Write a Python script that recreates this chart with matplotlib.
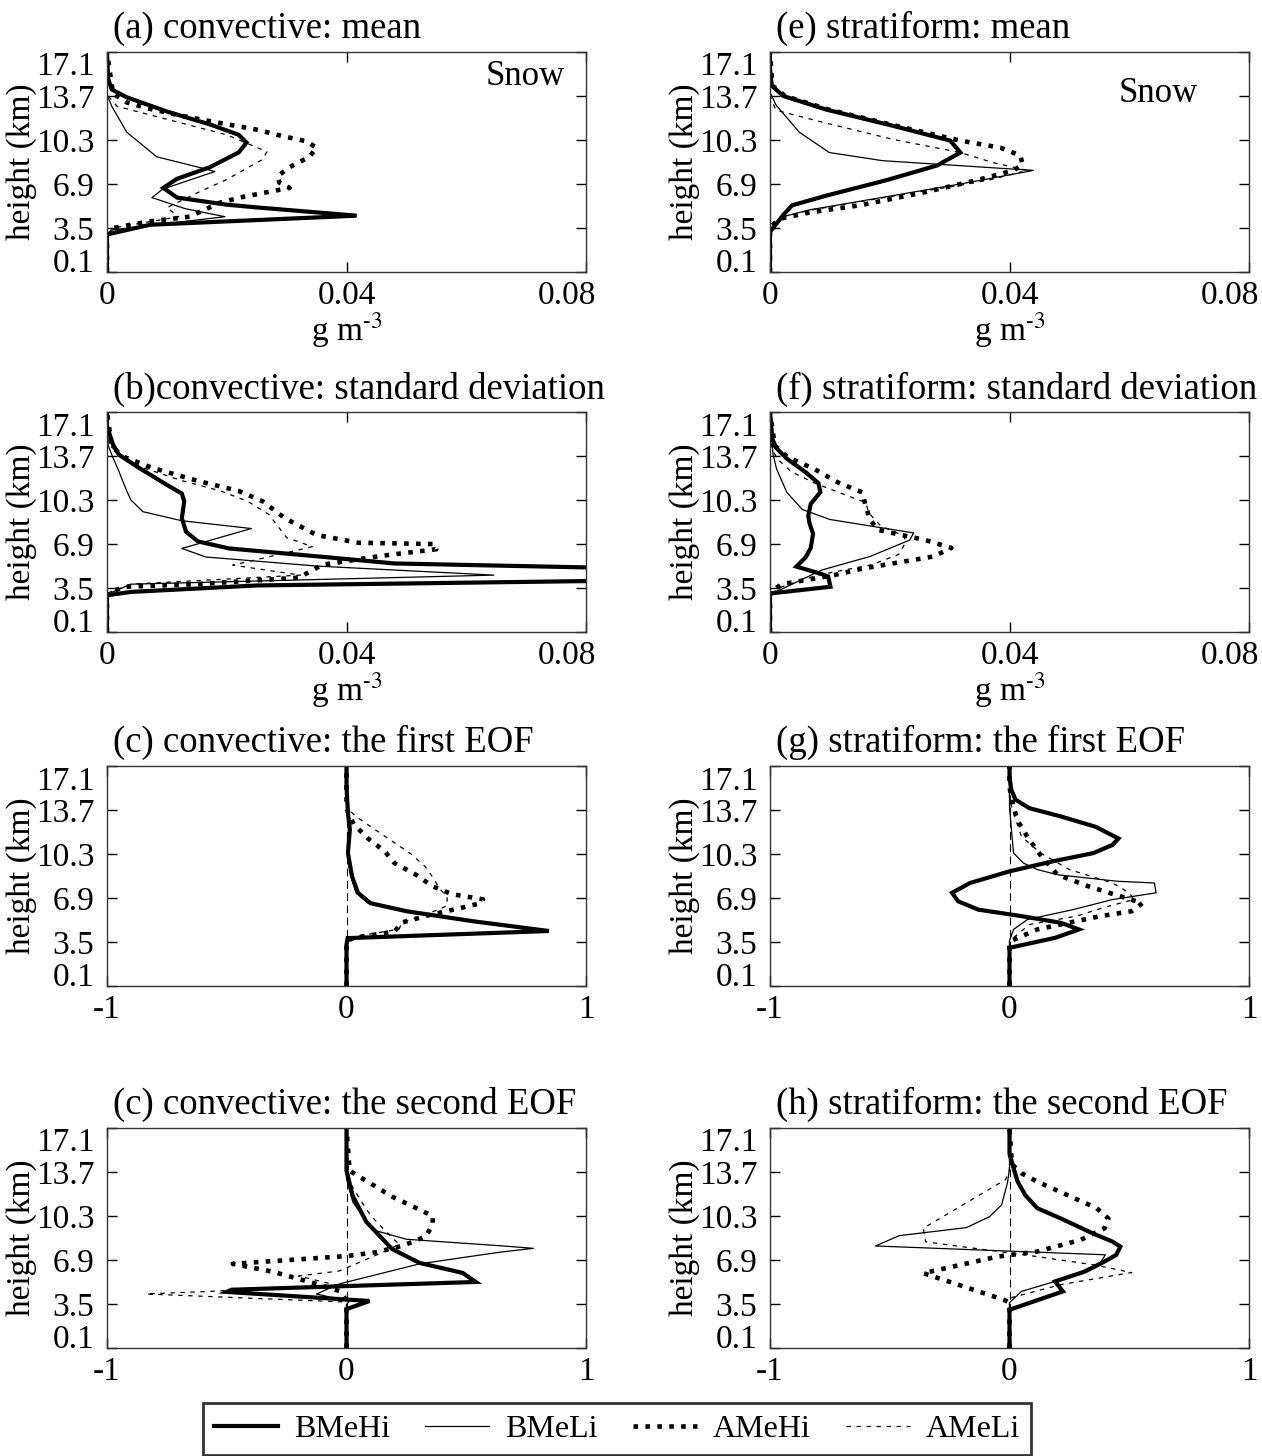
"""
Snow profiles: mean, std and EOFs for convective / stratiform cases.
"""
import matplotlib
matplotlib.use("Agg")
import matplotlib.pyplot as plt
from matplotlib.lines import Line2D
from matplotlib.transforms import ScaledTranslation

plt.rcParams["font.family"] = ["Liberation Serif", "DejaVu Serif"]
plt.rcParams["mathtext.fontset"] = "stix"

SERIES = ["BMeHi", "BMeLi", "AMeHi", "AMeLi"]
Y_TICKS = [0.1, 3.5, 6.9, 10.3, 13.7, 17.1]
Y_LABELS = ["0.1", "3.5", "6.9", "10.3", "13.7", "17.1"]
CONC_TICKS = [0, 0.04, 0.08]
CONC_LABELS = ["0", "0.04", "0.08"]
EOF_TICKS = [-1, 0, 1]
EOF_LABELS = ["-1", "0", "1"]

TITLES = ["(a) convective: mean", "(b)convective: standard deviation",
          "(c) convective: the first EOF", "(c) convective: the second EOF",
          "(e) stratiform: mean", "(f) stratiform: standard deviation",
          "(g) stratiform: the first EOF", "(h) stratiform: the second EOF"]

# ---- (a) convective mean ------------------------------------------------
a_bmehi_z = [0.1, 3.0, 3.75, 4.45, 5.07, 5.3, 5.85, 6.6, 7.3, 8.2, 9.34, 10.1, 10.7, 11.5, 12.5, 13.6, 14.2, 15.0, 17.1]
a_bmehi_x = [0, 0, 0.0072, 0.0417, 0.0255, 0.02, 0.0117, 0.0094, 0.0117, 0.0172, 0.022, 0.0233, 0.022, 0.0172, 0.010, 0.0033, 0.0008, 0.0002, 0]
a_bmeli_z = [0.1, 3.0, 3.36, 4.37, 5.0, 5.85, 6.5, 7.86, 8.17, 9.0, 10.9, 12.9, 13.8, 17.1]
a_bmeli_x = [0, 0, 0.001, 0.0197, 0.013, 0.0075, 0.0093, 0.018, 0.0155, 0.0083, 0.0033, 0.0008, 0, 0]
a_amehi_z = [0.1, 3.0, 3.5, 4.0, 4.37, 5.45, 5.9, 6.6, 7.0, 7.5, 8.2, 9.0, 9.7, 10.2, 10.6, 11.1, 11.75, 12.1, 12.7, 13.2, 13.9, 17.1]
a_amehi_x = [0, 0, 0.001, 0.007, 0.0138, 0.0188, 0.0227, 0.0305, 0.0288, 0.0285, 0.0305, 0.0338, 0.035, 0.0333, 0.0293, 0.025, 0.0172, 0.0133, 0.0072, 0.0033, 0.001, 0]
a_ameli_z = [0.1, 3.0, 3.5, 4.37, 5.07, 6.2, 7.25, 8.8, 9.4, 10.7, 11.9, 12.9, 13.8, 17.1]
a_ameli_x = [0, 0, 0.001, 0.012, 0.010, 0.015, 0.020, 0.026, 0.0267, 0.020, 0.010, 0.0017, 0, 0]

# ---- (b) convective standard deviation ----------------------------------
b_bmehi_z = [0.1, 2.94, 3.2, 3.7, 4.1, 4.5, 5.0, 5.4, 5.9, 6.56, 7.1, 7.85, 8.9, 10.2, 10.8, 11.5, 12.8, 13.8, 14.6, 16.0, 17.1]
b_bmehi_x = [0, 0, 0.004, 0.025, 0.09, 0.11, 0.09, 0.048, 0.0363, 0.0204, 0.0152, 0.0132, 0.0125, 0.0129, 0.0125, 0.0099, 0.0053, 0.002, 0.001, 0, 0]
b_bmeli_z = [0.1, 3.0, 3.8, 4.5, 5.2, 5.9, 6.56, 8.1, 8.7, 9.4, 10.3, 11.0, 12.5, 13.8, 14.5, 17.1]
b_bmeli_x = [0, 0, 0.004, 0.0646, 0.035, 0.0165, 0.0125, 0.0241, 0.0125, 0.006, 0.004, 0.0033, 0.002, 0.0008, 0.0002, 0]
b_amehi_z = [0.1, 3.1, 3.6, 3.8, 4.3, 4.8, 5.3, 6.0, 6.5, 6.9, 7.0, 7.6, 8.9, 10.2, 11.0, 11.8, 12.8, 13.6, 14.4, 17.1]
b_amehi_x = [0, 0, 0.003, 0.015, 0.032, 0.034, 0.036, 0.046, 0.055, 0.0547, 0.042, 0.035, 0.0297, 0.026, 0.022, 0.015, 0.0075, 0.003, 0.0008, 0]
b_ameli_z = [0.1, 3.1, 3.8, 4.5, 5.27, 6.2, 6.7, 7.4, 8.3, 9.2, 10.2, 11.0, 11.8, 12.8, 13.5, 14.5, 17.1]
b_ameli_x = [0, 0, 0.004, 0.0323, 0.021, 0.0297, 0.0343, 0.030, 0.0285, 0.027, 0.0235, 0.019, 0.0125, 0.006, 0.003, 0.0005, 0]

# ---- (c) convective first EOF -------------------------------------------
c_bmehi_z = [0.1, 3.3, 3.8, 4.35, 5.1, 5.88, 6.5, 7.3, 8.57, 10.37, 12.2, 13.45, 15.5, 17.1]
c_bmehi_x = [0, 0, 0.005, 0.845, 0.53, 0.25, 0.10, 0.048, 0.023, 0.006, 0.014, 0.006, 0, 0]
c_bmeli_z = [0.1, 3.3, 3.8, 4.35, 5.1, 5.88, 6.5, 7.3, 8.57, 10.37, 12.2, 13.45, 15.5, 17.1]
c_bmeli_x = [0, 0, 0.005, 0.82, 0.52, 0.24, 0.09, 0.04, 0.018, 0.004, 0.01, 0.004, 0, 0]
c_amehi_z = [0.1, 3.6, 3.85, 4.3, 5.0, 5.6, 6.1, 6.5, 6.8, 7.2, 7.8, 8.7, 9.6, 10.5, 11.5, 12.6, 13.4, 13.8, 17.1]
c_amehi_x = [0, 0, 0.04, 0.20, 0.23, 0.35, 0.47, 0.56, 0.57, 0.44, 0.36, 0.29, 0.20, 0.16, 0.09, 0.03, 0.01, 0, 0]
c_ameli_z = [0.1, 3.7, 3.9, 4.5, 5.0, 5.6, 6.3, 7.0, 7.6, 8.5, 9.3, 10.3, 11.3, 12.3, 13.2, 13.8, 17.1]
c_ameli_x = [0, 0, 0.03, 0.22, 0.23, 0.33, 0.42, 0.42, 0.39, 0.36, 0.33, 0.27, 0.19, 0.11, 0.04, 0.005, 0]

# ---- (d) convective second EOF ------------------------------------------
d_bmehi_z = [0.1, 3.1, 3.73, 4.43, 4.6, 5.2, 5.9, 6.67, 7.75, 9.84, 11.85, 13.8, 17.1]
d_bmehi_x = [0, 0, 0.096, -0.50, -0.48, 0.54, 0.485, 0.305, 0.19, 0.083, 0.026, 0, 0]
d_bmeli_z = [0.1, 3.4, 3.7, 4.27, 5.05, 6.6, 7.5, 7.8, 8.0, 8.5, 9.15, 9.84, 11.4, 13.2, 17.1]
d_bmeli_x = [0, 0, 0.01, -0.125, -0.03, 0.305, 0.64, 0.78, 0.64, 0.25, 0.125, 0.083, 0.026, 0, 0]
d_amehi_z = [0.1, 3.8, 4.5, 5.05, 6.0, 6.6, 7.2, 7.5, 8.0, 8.7, 9.6, 10.3, 11.8, 13.8, 17.1]
d_amehi_x = [0, 0, -0.03, -0.125, -0.31, -0.475, 0, 0.125, 0.235, 0.33, 0.36, 0.36, 0.19, 0.013, 0]
d_ameli_z = [0.1, 3.4, 3.65, 4.27, 4.9, 5.66, 6.05, 7.4, 8.1, 9.84, 10.8, 13.0, 17.1]
d_ameli_x = [0, 0, 0, -0.835, -0.03, -0.2, -0.03, 0.14, 0.22, 0.125, 0.083, 0.01, 0]

# ---- (e) stratiform mean ------------------------------------------------
e_bmehi_z = [0.1, 3.2, 4.5, 5.25, 6.0, 7.2, 8.33, 9.33, 10.25, 11.4, 12.65, 13.7, 14.5, 15.8, 17.1]
e_bmehi_x = [0, 0, 0.0022, 0.0037, 0.0094, 0.0195, 0.0279, 0.0318, 0.0301, 0.0205, 0.0094, 0.0022, 0.0003, 0, 0]
e_bmeli_z = [0.1, 3.2, 4.35, 4.9, 6.0, 6.9, 7.95, 8.7, 9.33, 10.9, 13.0, 14.0, 17.1]
e_bmeli_x = [0, 0, 0.002, 0.0066, 0.0205, 0.0318, 0.044, 0.0188, 0.0099, 0.0049, 0.001, 0, 0]
e_amehi_z = [0.1, 3.5, 4.2, 4.7, 5.25, 6.3, 7.2, 7.95, 8.4, 9.1, 9.7, 10.25, 11.4, 12.65, 13.7, 14.5, 17.1]
e_amehi_x = [0, 0, 0.0015, 0.0066, 0.015, 0.0262, 0.0346, 0.0407, 0.0422, 0.0418, 0.0385, 0.0318, 0.021, 0.0098, 0.0025, 0.0004, 0]
e_ameli_z = [0.1, 3.2, 4.35, 4.9, 6.0, 6.9, 7.25, 7.95, 8.55, 9.33, 10.35, 11.6, 12.6, 13.7, 17.1]
e_ameli_x = [0, 0, 0.002, 0.007, 0.021, 0.033, 0.037, 0.043, 0.0373, 0.0318, 0.0205, 0.0094, 0.001, 0, 0]

# ---- (f) stratiform standard deviation ----------------------------------
f_bmehi_z = [0.1, 3.08, 3.6, 4.4, 4.6, 5.16, 5.9, 6.6, 7.7, 8.5, 9.1, 10.0, 10.9, 11.6, 12.4, 13.5, 14.3, 15.0, 17.1]
f_bmehi_x = [0, 0, 0.0101, 0.0097, 0.0085, 0.0044, 0.006, 0.0068, 0.0072, 0.0066, 0.0064, 0.0068, 0.0084, 0.0081, 0.0061, 0.0028, 0.0011, 0.0004, 0]
f_bmeli_z = [0.1, 3.0, 3.6, 4.9, 5.94, 7.2, 7.76, 8.3, 8.8, 9.57, 10.9, 12.7, 13.85, 17.1]
f_bmeli_x = [0, 0, 0.0028, 0.0087, 0.0167, 0.0233, 0.024, 0.0167, 0.010, 0.0054, 0.0028, 0.0011, 0.0005, 0]
f_amehi_z = [0.1, 3.2, 3.8, 4.5, 5.0, 5.94, 6.6, 7.2, 8.0, 8.8, 9.8, 10.9, 11.65, 12.7, 13.6, 14.5, 17.1]
f_amehi_x = [0, 0, 0.002, 0.0107, 0.0154, 0.0273, 0.0303, 0.026, 0.018, 0.0167, 0.016, 0.0154, 0.0114, 0.0074, 0.003, 0.0008, 0]
f_ameli_z = [0.1, 3.0, 3.6, 4.5, 5.3, 6.1, 6.9, 7.5, 8.3, 9.3, 10.1, 10.8, 11.6, 12.5, 13.5, 14.3, 17.1]
f_ameli_x = [0, 0, 0.002, 0.008, 0.017, 0.0215, 0.0225, 0.0225, 0.0185, 0.0165, 0.016, 0.012, 0.0075, 0.0035, 0.0012, 0.0003, 0]

# ---- (g) stratiform first EOF -------------------------------------------
g_bmehi_z = [0.1, 3.05, 3.82, 4.47, 4.98, 5.5, 6.0, 6.65, 7.3, 8.06, 8.96, 9.73, 10.37, 11.0, 11.5, 12.4, 13.2, 13.84, 14.5, 15.25, 16.2, 17.1]
g_bmehi_x = [0, 0, 0.19, 0.29, 0.215, 0.05, -0.13, -0.215, -0.24, -0.165, 0, 0.18, 0.35, 0.43, 0.455, 0.36, 0.215, 0.083, 0.025, 0.008, 0, 0]
g_bmeli_z = [0.1, 3.6, 4.47, 5.24, 6.0, 6.78, 7.3, 8.06, 8.2, 8.7, 9.1, 9.6, 10.37, 12.2, 13.97, 17.1]
g_bmeli_x = [0, 0, 0.017, 0.075, 0.265, 0.43, 0.612, 0.605, 0.446, 0.20, 0.116, 0.058, 0.017, 0.008, 0, 0]
g_amehi_z = [0.1, 3.3, 3.6, 4.47, 5.0, 5.5, 5.88, 6.5, 7.16, 7.8, 8.7, 10.2, 11.65, 12.9, 14.6, 15.5, 17.1]
g_amehi_x = [0, 0, 0.008, 0.116, 0.25, 0.38, 0.51, 0.555, 0.44, 0.33, 0.20, 0.13, 0.074, 0.033, 0.008, 0, 0]
g_ameli_z = [0.1, 3.4, 3.7, 4.85, 5.5, 6.2, 6.78, 7.3, 8.06, 9.1, 10.37, 11.65, 13.45, 14.5, 17.1]
g_ameli_x = [0, 0, 0.008, 0.083, 0.28, 0.40, 0.52, 0.50, 0.43, 0.25, 0.13, 0.05, 0.017, 0, 0]

# ---- (h) stratiform second EOF ------------------------------------------
h_bmehi_z = [0.1, 3.05, 4.47, 5.24, 6.0, 6.78, 7.3, 7.93, 8.32, 8.96, 10.1, 10.9, 11.9, 13.0, 14.0, 15.1, 17.1]
h_bmehi_x = [0, 0, 0.223, 0.19, 0.314, 0.397, 0.446, 0.463, 0.43, 0.347, 0.215, 0.116, 0.066, 0.033, 0.017, 0, 0]
h_bmeli_z = [0.1, 3.6, 4.47, 5.24, 6.0, 6.7, 7.3, 7.98, 8.78, 9.4, 10.25, 11.15, 12.9, 14.0, 17.1]
h_bmeli_x = [0, 0, 0.05, 0.19, 0.30, 0.38, 0.40, -0.56, -0.46, -0.18, -0.083, -0.033, -0.008, 0, 0]
h_amehi_z = [0.1, 3.6, 3.83, 5.88, 7.16, 7.55, 8.45, 9.35, 10.1, 10.9, 12.0, 12.95, 13.6, 14.3, 17.1]
h_amehi_x = [0, 0, -0.025, -0.36, -0.05, 0.116, 0.297, 0.397, 0.413, 0.364, 0.231, 0.116, 0.05, 0.01, 0]
h_ameli_z = [0.1, 3.5, 4.0, 5.0, 5.93, 6.5, 7.2, 8.3, 9.35, 13.1, 13.8, 17.1]
h_ameli_x = [0, 0, 0.01, 0.215, 0.51, 0.36, 0.10, -0.35, -0.36, -0.017, 0, 0]

PROFILES = [
    [(a_bmehi_x, a_bmehi_z), (a_bmeli_x, a_bmeli_z), (a_amehi_x, a_amehi_z), (a_ameli_x, a_ameli_z)],
    [(b_bmehi_x, b_bmehi_z), (b_bmeli_x, b_bmeli_z), (b_amehi_x, b_amehi_z), (b_ameli_x, b_ameli_z)],
    [(c_bmehi_x, c_bmehi_z), (c_bmeli_x, c_bmeli_z), (c_amehi_x, c_amehi_z), (c_ameli_x, c_ameli_z)],
    [(d_bmehi_x, d_bmehi_z), (d_bmeli_x, d_bmeli_z), (d_amehi_x, d_amehi_z), (d_ameli_x, d_ameli_z)],
    [(e_bmehi_x, e_bmehi_z), (e_bmeli_x, e_bmeli_z), (e_amehi_x, e_amehi_z), (e_ameli_x, e_ameli_z)],
    [(f_bmehi_x, f_bmehi_z), (f_bmeli_x, f_bmeli_z), (f_amehi_x, f_amehi_z), (f_ameli_x, f_ameli_z)],
    [(g_bmehi_x, g_bmehi_z), (g_bmeli_x, g_bmeli_z), (g_amehi_x, g_amehi_z), (g_ameli_x, g_ameli_z)],
    [(h_bmehi_x, h_bmehi_z), (h_bmeli_x, h_bmeli_z), (h_amehi_x, h_amehi_z), (h_ameli_x, h_ameli_z)],
]

STYLE = {
    "BMeHi": dict(color="k", lw=3.0, ls="-", solid_joinstyle="miter"),
    "BMeLi": dict(color="k", lw=0.9, ls="-"),
    "AMeHi": dict(color="k", lw=3.3, ls=(0, (1, 1.6)), dash_capstyle="butt"),
    "AMeLi": dict(color="k", lw=0.9, ls=(0, (3.5, 4.5))),
}
DRAW_ORDER = ["AMeLi", "AMeHi", "BMeLi", "BMeHi"]

COL_X = [107 / 1262, 770 / 1262]
ROW_Y = [0.8132, 0.5659, 0.3228, 0.0742]
AX_W, AX_H = 479 / 1262, 220 / 1456

fig = plt.figure(figsize=(12.62, 14.56), dpi=100)

for i, title in enumerate(TITLES):
    col, row = divmod(i, 4)
    ax = fig.add_axes([COL_X[col], ROW_Y[row], AX_W, AX_H])
    eof = row >= 2
    if eof:
        ax.axvline(0, color="k", lw=0.8, ls=(0, (7, 4)))
    for name in DRAW_ORDER:
        x, z = PROFILES[i][SERIES.index(name)]
        ax.plot(x, z, **STYLE[name])

    ax.set_ylim(0.1, 17.1)
    ax.set_yticks(Y_TICKS, Y_LABELS)
    ax.set_ylabel("height (km)", fontsize=24, labelpad=-1)
    if eof:
        ax.set_xlim(-1, 1)
        ax.set_xticks(EOF_TICKS, EOF_LABELS)
    else:
        ax.set_xlim(0, 0.08)
        ax.set_xticks(CONC_TICKS, CONC_LABELS)
        ax.set_xlabel(r"g m$^{\text{-3}}$", fontsize=24, labelpad=0)

    ax.tick_params(direction="in", top=True, right=True, length=7, width=1,
                   labelsize=24)
    ax.tick_params(axis="x", pad=6)
    ax.tick_params(axis="y", pad=9)
    for s in ax.spines.values():
        s.set_linewidth(1.0)
        s.set_color("#333333")

    # label tweaks after tick_params, which would reset the transforms
    ylabs = ax.get_yticklabels()
    ylabs[0].set_verticalalignment("baseline")
    ylabs[-1].set_verticalalignment("top")
    if not eof:
        last = ax.get_xticklabels()[-1]
        last.set_transform(last.get_transform()
                           + ScaledTranslation(-0.19, 0, fig.dpi_scale_trans))

    ax.text(0.013, 1.062, title, transform=ax.transAxes, fontsize=26.5,
            ha="left", va="baseline")

    if i == 0:
        ax.text(0.956, 0.89, "Snow", transform=ax.transAxes, fontsize=25,
                ha="right", va="center")
    if i == 4:
        ax.text(0.894, 0.81, "Snow", transform=ax.transAxes, fontsize=25,
                ha="right", va="center")

handles = [Line2D([], [], **STYLE[n]) for n in SERIES]
leg = fig.legend(handles, SERIES, loc="center", bbox_to_anchor=(0.489, 0.0185),
                 ncol=4, fontsize=23, frameon=True, fancybox=False,
                 edgecolor="k", handlelength=2.0, handletextpad=0.5,
                 columnspacing=1.1, borderpad=0.35)
leg.get_frame().set_linewidth(2)

fig.savefig("out.png", dpi=100)
plt.close(fig)
